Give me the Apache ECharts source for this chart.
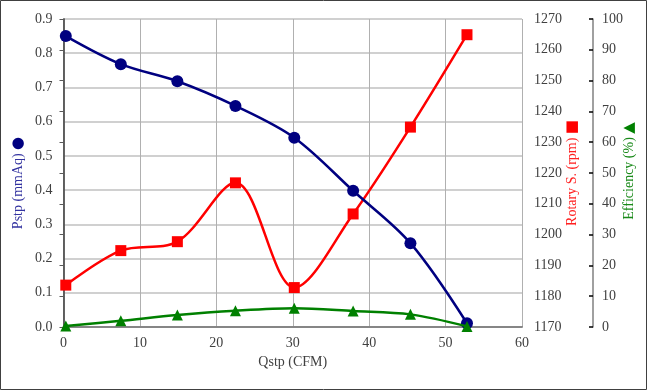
<!DOCTYPE html>
<html><head><meta charset="utf-8">
<script src="https://cdn.jsdelivr.net/npm/echarts@6/dist/echarts.min.js"></script>
<style>html,body{margin:0;padding:0;background:#fff}#c{width:647px;height:390px}</style>
</head><body><div id="c"></div>
<script>
var qstp = [0.3, 7.5, 14.9, 22.5, 30.2, 37.9, 45.4, 52.8];
var pstp = [0.85, 0.768, 0.718, 0.646, 0.553, 0.398, 0.245, 0.011];
var rotary = [1183.6, 1194.8, 1197.7, 1216.8, 1182.8, 1206.7, 1234.9, 1264.9];
var efficiency = [0.3, 2.0, 3.9, 5.3, 6.1, 5.2, 4.1, 0.2];

function pairs(xs, ys){ return xs.map(function(x,i){return [x, ys[i]];}); }

var FONT = '"Liberation Serif", "DejaVu Serif", serif';
var chart = echarts.init(document.getElementById('c'));
var lbl = {color:'#404040', fontFamily:FONT, fontSize:14};
chart.setOption({
  animation:false,
  backgroundColor:'#fff',
  grid:{left:63.5, right:125, top:19, bottom:63},
  xAxis:[{type:'value', min:0, max:60, interval:10,
    name:'Qstp (CFM)', nameLocation:'middle', nameGap:26,
    nameTextStyle:{color:'#404040', fontFamily:FONT, fontSize:14},
    axisLine:{lineStyle:{color:'#595959', width:1.5}},
    axisTick:{show:false},
    axisLabel:Object.assign({margin:9}, lbl),
    splitLine:{show:true, lineStyle:{color:'#b0b0b0', width:1}}
  },{type:'value', min:0, max:60, position:'top',
    axisLine:{show:true, lineStyle:{color:'#8c8c8c', width:1.5}},
    axisTick:{show:false}, axisLabel:{show:false}, splitLine:{show:false}
  }],
  yAxis:[
    {type:'value', min:0, max:0.9, interval:0.1, position:'left',
      axisLine:{show:true, lineStyle:{color:'#595959', width:1.5}},
      axisTick:{show:false},
      axisLabel:Object.assign({margin:11, formatter:function(v){return v.toFixed(1);}}, lbl),
      splitLine:{show:true, lineStyle:{color:'#d0d0d0', width:2}}
    },
    {type:'value', min:1170, max:1270, interval:10, position:'right',
      axisLine:{show:true, lineStyle:{color:'#595959', width:1.5}},
      axisTick:{show:true, inside:true, length:4, lineStyle:{color:'#595959'}},
      axisLabel:Object.assign({margin:12, formatter:function(v){return String(v);}}, lbl),
      splitLine:{show:false}
    },
    {type:'value', min:0, max:100, interval:10, position:'right', offset:71,
      axisLine:{show:true, lineStyle:{color:'#808080', width:1.5}},
      axisTick:{show:true, inside:true, length:4, lineStyle:{color:'#000', width:1.5}},
      axisLabel:Object.assign({margin:9}, lbl),
      splitLine:{show:false}
    }
  ],
  series:[
    {type:'line', name:'Pstp', yAxisIndex:0, data:pairs(qstp,pstp), smooth:0.33,
      symbol:'circle', symbolSize:12, lineStyle:{color:'#000080', width:2.5},
      itemStyle:{color:'#000080'}, z:4},
    {type:'line', name:'Rotary', yAxisIndex:1, data:pairs(qstp,rotary), smooth:0.33,
      symbol:'rect', symbolSize:11, lineStyle:{color:'#ff0000', width:2.5},
      itemStyle:{color:'#ff0000'}, z:3},
    {type:'line', name:'Efficiency', yAxisIndex:2, data:pairs(qstp,efficiency), smooth:0.33,
      symbol:'triangle', symbolSize:11, lineStyle:{color:'#008000', width:2.5},
      itemStyle:{color:'#008000'}, z:5}
  ],
  graphic:[
    {type:'rect', shape:{x:0.5, y:0.5, width:646, height:389}, style:{fill:null, stroke:'#404040', lineWidth:1}, silent:true},
    {type:'text', x:18, y:183, rotation:Math.PI/2,
      style:{text:'{t|Pstp (mmAq)} {m|●}', align:'center', verticalAlign:'middle',
        rich:{t:{fill:'#3333a0', fontFamily:FONT, fontSize:14}, m:{fill:'#000080', fontSize:15, fontFamily:'DejaVu Sans'}}}},
    {type:'text', x:572.5, y:173, rotation:Math.PI/2,
      style:{text:'{t|Rotary S. (rpm)} {m|■}', align:'center', verticalAlign:'middle',
        rich:{t:{fill:'#ff2020', fontFamily:FONT, fontSize:14}, m:{fill:'#ff0000', fontSize:15, fontFamily:'DejaVu Sans'}}}},
    {type:'text', x:629, y:171, rotation:Math.PI/2,
      style:{text:'{t|Efficiency (%)} {m|▲}', align:'center', verticalAlign:'middle',
        rich:{t:{fill:'#1a8a1a', fontFamily:FONT, fontSize:14}, m:{fill:'#008000', fontSize:15, fontFamily:'DejaVu Sans'}}}}
  ]
});
</script></body></html>
